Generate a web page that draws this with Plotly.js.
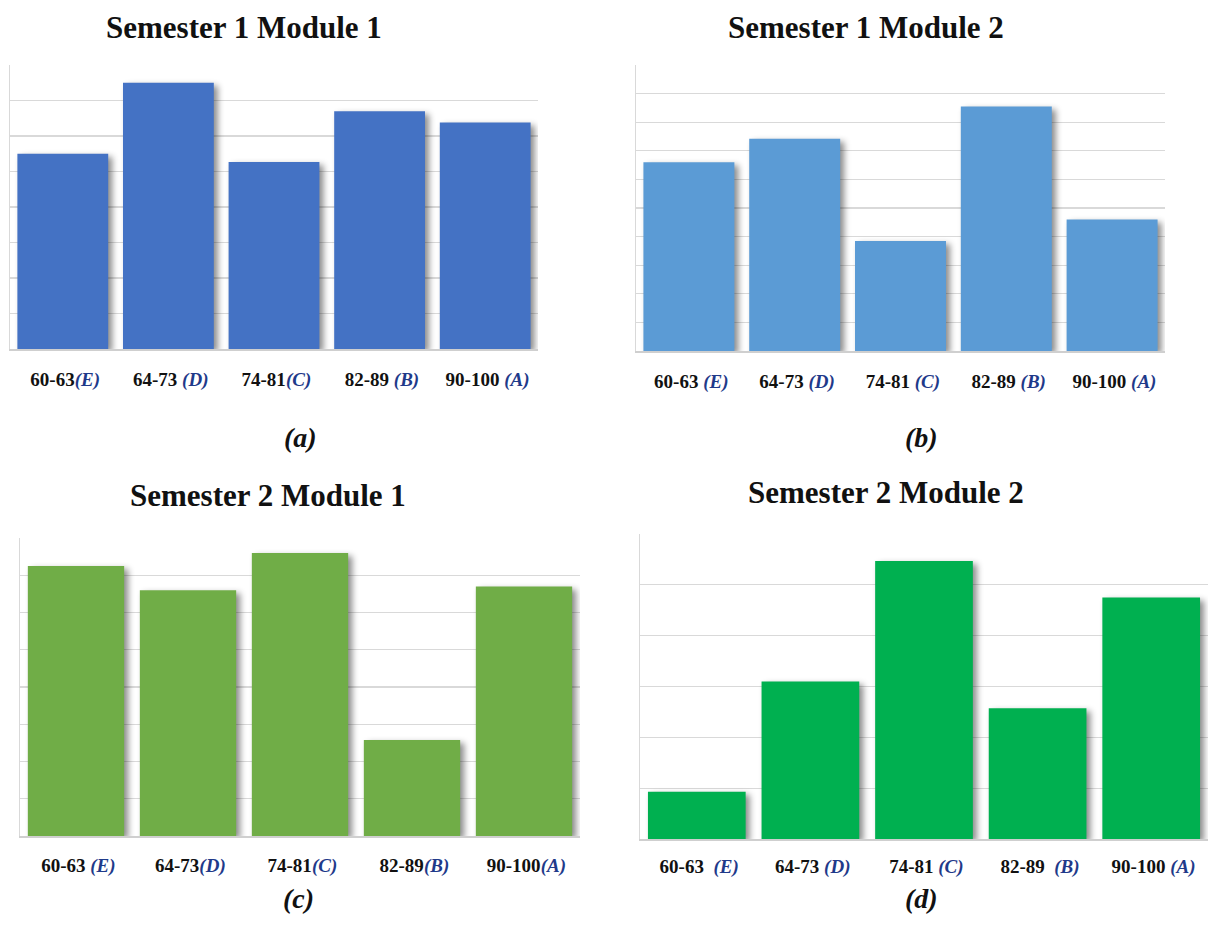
<!DOCTYPE html>
<html>
<head>
<meta charset="utf-8">
<script src="https://cdn.plot.ly/plotly-3.0.1.min.js"></script>
<style>
  html, body { margin: 0; padding: 0; background: #fff; }
  #chart { width: 1226px; height: 940px; }
  #chart .bars path { filter: drop-shadow(4px 3px 3px rgba(0,0,0,0.45)); }
</style>
</head>
<body>
<div id="chart"></div>
<script>
// Grade bands (category keys)
const categories = ["60-63", "64-73", "74-81", "82-89", "90-100"];
const grades = ["E", "D", "C", "B", "A"];

// Bar heights (in gridline units; no scale is printed)
const s1m1 = [5.5, 7.5, 5.27, 6.7, 6.38];
const s1m2 = [6.6, 7.42, 3.85, 8.55, 4.6];
const s2m1 = [7.25, 6.6, 7.6, 2.58, 6.7];
const s2m2 = [0.93, 3.1, 5.47, 2.57, 4.75];

// Axis tops (number of gridline intervals in each panel)
const ranges = [8, 10, 8, 6];

// Separators between range and grade letter as printed in each panel
const sepA = ["", " ", "", " ", " "];
const sepB = [" ", " ", " ", " ", " "];
const sepC = [" ", "", "", "", ""];
const sepD = ["  ", " ", " ", "  ", " "];

const titles = ["Semester 1 Module 1", "Semester 1 Module 2", "Semester 2 Module 1", "Semester 2 Module 2"];
const captions = ["(a)", "(b)", "(c)", "(d)"];
const colors = ["#4472C4", "#5B9BD5", "#70AD47", "#00B050"];

function tickText(seps) {
  return categories.map((c, i) =>
    "\u00a0<b>" + c + seps[i].replace(/ /g, "\u00a0") +
    "<span style='color:#1F3A8A'><i>(" + grades[i] + ")</i></span></b>");
}

const W = 1226, H = 940;
const px = (a, b) => [a / W, b / W];
const py = (top, bottom) => [(H - bottom) / H, (H - top) / H];

const panels = [
  {vals: s1m1, seps: sepA, dx: px(10, 538), dy: py(65, 349), standoff: 13},
  {vals: s1m2, seps: sepB, dx: px(636, 1165), dy: py(65, 351), standoff: 13},
  {vals: s2m1, seps: sepC, dx: px(20, 580), dy: py(538, 836), standoff: 12},
  {vals: s2m2, seps: sepD, dx: px(640, 1208), dy: py(534, 839), standoff: 10}
];

const titlePos = [[244, 27], [866, 27], [268, 495], [886, 492]];
const capPos = [[300, 437], [921, 437], [298, 898], [921, 898]];

const serif = "Liberation Serif, Times New Roman, serif";
const data = [];
const layout = {
  width: W, height: H,
  margin: {l: 0, r: 0, t: 0, b: 0},
  paper_bgcolor: "#fff", plot_bgcolor: "#fff",
  showlegend: false,
  bargap: 0.14,
  font: {family: serif, color: "#111"},
  annotations: []
};

panels.forEach((p, k) => {
  const n = k === 0 ? "" : String(k + 1);
  data.push({
    type: "bar", x: categories, y: p.vals,
    xaxis: "x" + n, yaxis: "y" + n,
    marker: {color: colors[k], line: {width: 0}},
    hoverinfo: "skip"
  });
  layout["xaxis" + n] = {
    domain: p.dx, anchor: "y" + n,
    type: "category",
    tickvals: categories, ticktext: tickText(p.seps),
    tickfont: {size: 19, family: serif, color: "#111"},
    ticks: "", ticklabelstandoff: p.standoff,
    showline: true, linecolor: "#cfcfcf", linewidth: 1.5,
    showgrid: false, zeroline: false, fixedrange: true
  };
  layout["yaxis" + n] = {
    domain: p.dy, anchor: "x" + n,
    range: [0, ranges[k]], dtick: 1, tick0: 0,
    showticklabels: false, ticks: "",
    showgrid: true, gridcolor: "#d9d9d9", gridwidth: 1.3,
    showline: true, linecolor: "#d9d9d9", linewidth: 1.3,
    zeroline: false, fixedrange: true
  };
  layout.annotations.push({
    xref: "paper", yref: "paper",
    x: titlePos[k][0] / W, y: (H - titlePos[k][1]) / H,
    xanchor: "center", yanchor: "middle",
    text: "<b>" + titles[k] + "</b>", showarrow: false,
    font: {size: 31, family: serif, color: "#111"}
  });
  layout.annotations.push({
    xref: "paper", yref: "paper",
    x: capPos[k][0] / W, y: (H - capPos[k][1]) / H,
    xanchor: "center", yanchor: "middle",
    text: "<b><i>" + captions[k] + "</i></b>", showarrow: false,
    font: {size: 28, family: serif, color: "#111"}
  });
});

Plotly.newPlot("chart", data, layout, {staticPlot: true, displayModeBar: false});
</script>
</body>
</html>
